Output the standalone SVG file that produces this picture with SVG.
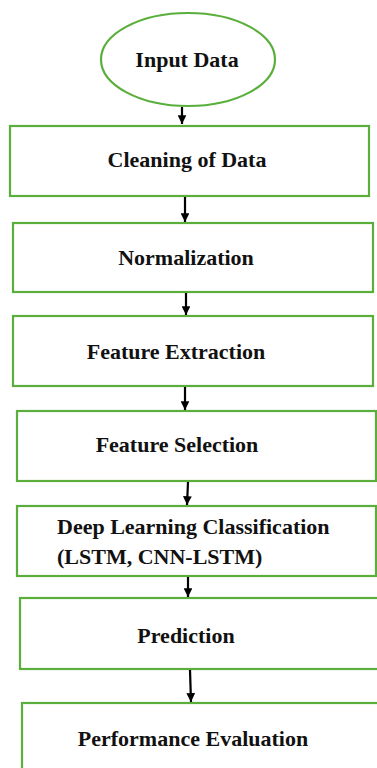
<svg xmlns="http://www.w3.org/2000/svg" width="377" height="768" viewBox="0 0 377 768">
<defs>
<marker id="ah" viewBox="0 0 10 10" refX="10" refY="5" markerWidth="4" markerHeight="4" orient="auto" markerUnits="strokeWidth">
<path d="M0,0 L10,5 L0,10 Z" fill="#000"/>
</marker>
</defs>
<style>
.box{fill:#fff;stroke:#5aaf3c;stroke-width:2.2}
.t{font-family:"Liberation Serif","Times New Roman",serif;font-weight:bold;font-size:22px;fill:#111}
.c{stroke:#000;stroke-width:2.2;fill:none;marker-end:url(#ah)}
</style>
<rect x="0" y="0" width="377" height="768" fill="#fff"/>
<g id="n1"><ellipse class="box" cx="188" cy="59.5" rx="87" ry="46.5"/><text class="t" x="187" y="67" text-anchor="middle">Input Data</text></g>
<g id="n2"><rect class="box" x="10" y="126" width="359" height="70"/><text class="t" x="187" y="167" text-anchor="middle">Cleaning of Data</text></g>
<g id="n3"><rect class="box" x="13" y="223" width="360" height="69"/><text class="t" x="186" y="265" text-anchor="middle">Normalization</text></g>
<g id="n4"><rect class="box" x="13" y="316" width="360" height="70"/><text class="t" x="176" y="359" text-anchor="middle">Feature Extraction</text></g>
<g id="n5"><rect class="box" x="17" y="411" width="359" height="70"/><text class="t" x="177" y="452" text-anchor="middle">Feature Selection</text></g>
<g id="n6"><rect class="box" x="17" y="506" width="359" height="70"/><text class="t" x="57" y="534">Deep Learning Classification</text><text class="t" x="57" y="564">(LSTM, CNN-LSTM)</text></g>
<g id="n7"><rect class="box" x="20" y="598" width="370" height="71"/><text class="t" x="186" y="643" text-anchor="middle">Prediction</text></g>
<g id="n8"><rect class="box" x="22" y="703" width="370" height="80"/><text class="t" x="193" y="746" text-anchor="middle">Performance Evaluation</text></g>
<g id="connectors">
<line class="c" x1="182" y1="107" x2="182" y2="124"/>
<line class="c" x1="185" y1="197" x2="185" y2="222"/>
<line class="c" x1="186" y1="293" x2="186" y2="315"/>
<line class="c" x1="185" y1="387" x2="185" y2="410"/>
<line class="c" x1="188" y1="482" x2="187" y2="505"/>
<line class="c" x1="188" y1="577" x2="188" y2="597"/>
<line class="c" x1="190" y1="670" x2="191" y2="702"/>
</g>
</svg>
